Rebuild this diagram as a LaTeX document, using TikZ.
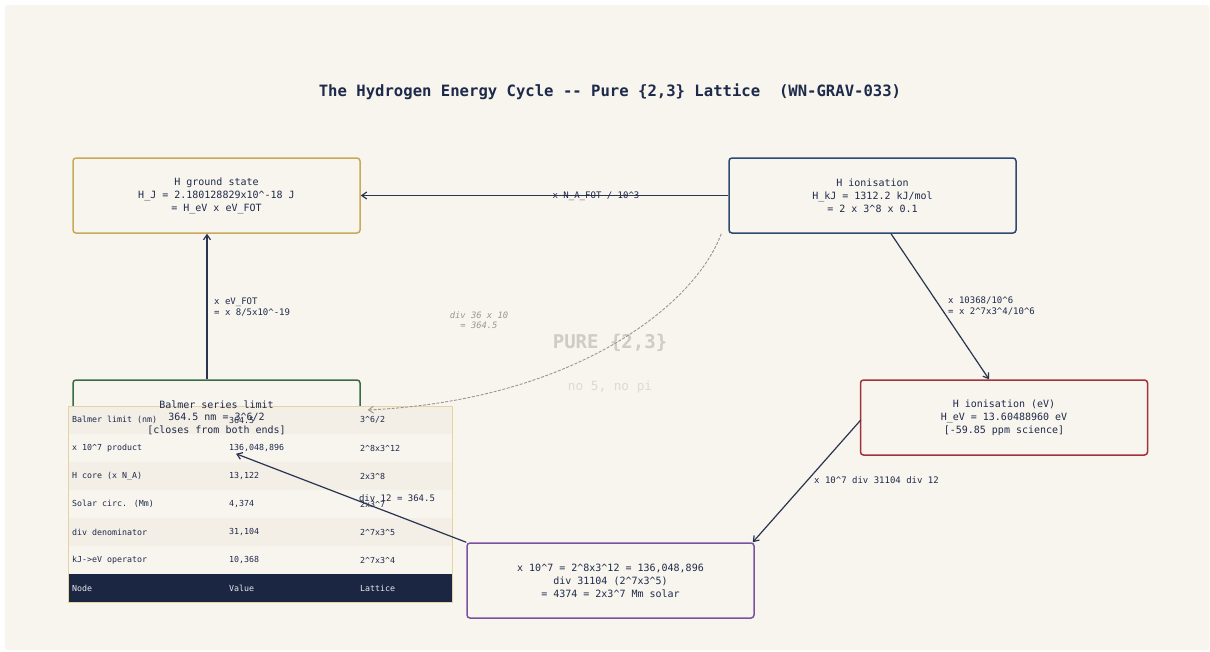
\documentclass[tikz,border=0pt]{standalone}
\usepackage{fontspec}
\newfontfamily\dvm{DejaVu Sans Mono}
\usetikzlibrary{calc,arrows.meta}
\definecolor{bgc}{HTML}{F8F5EE}
\definecolor{ink}{HTML}{1E2A4A}
\definecolor{goldb}{HTML}{C9A95A}
\definecolor{navyb}{HTML}{2D4A73}
\definecolor{greenb}{HTML}{3A6B45}
\definecolor{redb}{HTML}{A03338}
\definecolor{purpb}{HTML}{7B52A0}
\definecolor{arrc}{HTML}{2A3450}
\definecolor{dashc}{HTML}{9A9590}
\definecolor{wm}{HTML}{CFCCC6}
\definecolor{wmlight}{HTML}{DEDAD3}
\definecolor{rowdark}{HTML}{F3EEE6}
\definecolor{rowlight}{HTML}{F8F5EE}
\definecolor{tline}{HTML}{DEC584}
\definecolor{headc}{HTML}{1B2642}
\definecolor{headt}{HTML}{E8E8EC}
\tikzset{
  box/.style={draw, rounded corners=3pt, line width=1.5pt, fill=bgc, minimum width=287pt, minimum height=75pt, align=center, text=ink, font=\dvm\fontsize{10}{13}\selectfont, inner sep=0pt},
  conn/.style={draw=arrc, line width=1.2pt, -{Straight Barb[length=5pt,width=7pt]}},
  elabel/.style={text=ink, font=\dvm\fontsize{9}{10.5}\selectfont, align=left, anchor=west, inner sep=0pt},
  cell/.style={anchor=west, text=ink, font=\dvm\fontsize{8.3}{10}\selectfont, inner sep=0pt},
  hcell/.style={cell, text=headt},
}
\begin{document}
\begin{tikzpicture}[x=1pt,y=-1pt]
\useasboundingbox (0,0) rectangle (1210,651);
\fill[white] (0,0) rectangle (1210,651);
\fill[bgc, rounded corners=3pt] (5,5) rectangle (1209,650);
\node[font=\dvm\bfseries\fontsize{15.6}{18}\selectfont, text=ink] (title) at (610,91.5) {The Hydrogen Energy Cycle -- Pure \{2,3\} Lattice\ \ (WN-GRAV-033)};
% watermark
\node[font=\dvm\bfseries\fontsize{19}{22}\selectfont, text=wm] (wm1) at (610,343) {PURE \{2,3\}};
\node[font=\dvm\fontsize{12.7}{15}\selectfont, text=wmlight] (wm2) at (610,387) {no 5, no pi};
% boxes
\node[box, draw=goldb] (ground) at (216.5,195.5) {H ground state\\H\_J = 2.180128829x10\^{}-18 J\\= H\_eV x eV\_FOT};
\node[box, draw=navyb] (ionis) at (872.5,195.5) {H ionisation\\H\_kJ = 1312.2 kJ/mol\\= 2 x 3\^{}8 x 0.1};
\node[box, draw=redb] (ev) at (1004,417.5) {H ionisation (eV)\\H\_eV = 13.60488960 eV\\{[}-59.85 ppm science]};
\node[box, draw=purpb] (prod) at (610.5,580.5) {x 10\^{}7 = 2\^{}8x3\^{}12 = 136,048,896\\div 31104 (2\^{}7x3\^{}5)\\= 4374 = 2x3\^{}7 Mm solar};
\node[box, draw=greenb] (balmer) at (216.5,417.5) {};
% table
\foreach \i/\fc/\a/\b/\c in {
  1/rowdark/Balmer limit (nm)/364.5/3\^{}6\slash 2,
  2/rowlight/x 10\^{}7 product/136{,}048{,}896/2\^{}8x3\^{}12,
  3/rowdark/H core (x N\_A)/13{,}122/2x3\^{}8,
  4/rowlight/Solar circ. (Mm)/4{,}374/2x3\^{}7,
  5/rowdark/div denominator/31{,}104/2\^{}7x3\^{}5,
  6/rowlight/kJ->eV operator/10{,}368/2\^{}7x3\^{}4}{
  \pgfmathsetmacro{\yt}{406+28*(\i-1)}
  \fill[\fc] (68,\yt) rectangle (452,\yt+28);
  \draw[tline, line width=0.9pt] (68,\yt+28) -- (452,\yt+28);
  \node[cell] (t\i a) at (72,\yt+14) {\a};
  \node[cell] (t\i b) at (229,\yt+14) {\b};
  \node[cell] (t\i c) at (360,\yt+14) {\c};
}
\fill[headc] (68,574) rectangle (452,602);
\node[hcell] (h1) at (72,588) {Node};
\node[hcell] (h2) at (229,588) {Value};
\node[hcell] (h3) at (360,588) {Lattice};
\draw[tline!70!bgc, line width=0.9pt] (68,406) rectangle (452,602);
% balmer text on top
\node[text=ink, font=\dvm\fontsize{10}{12.5}\selectfont, align=center] (balmertext) at (216.5,417.5) {Balmer series limit\\364.5 nm = 3\^{}6/2\\{[}closes from both ends]};
% connectors
\draw[conn] (ionis.west) -- (ground.east);
\node[text=ink, font=\dvm\fontsize{9}{10.5}\selectfont, inner sep=0pt] (l1) at (596,196) {x N\_A\_FOT / 10\^{}3};
\draw[conn] ($(ionis.south)+(18.5,0)$) -- ($(ev.north)+(-15,0)$);
\node[elabel] (l2) at (948,306) {x 10368/10\^{}6\\= x 2\^{}7x3\^{}4/10\^{}6};
\draw[conn] ($(ev.west)+(1,2.5)$) -- ($(prod.north east)+(-2,0)$);
\node[elabel] (l3) at (814,480.5) {x 10\^{}7 div 31104 div 12};
\draw[conn] (prod.north west) -- ($(balmer.south)+(19.5,-2)$);
\node[text=ink, font=\dvm\fontsize{9}{10.5}\selectfont, inner sep=0pt] (l4) at (397,498) {div 12 = 364.5};
\draw[conn] ($(balmer.north)+(-9.5,0)$) -- ($(ground.south)+(-9.5,0)$);
\node[elabel] (l5) at (214,307) {x eV\_FOT\\= x 8/5x10\^{}-19};
\draw[draw=dashc, line width=0.9pt, dash pattern=on 3pt off 1.5pt, -{Straight Barb[length=5pt,width=7pt]}] ($(ionis.south west)+(-7,0)$) .. controls (695,305) and (575,400) .. ($(balmer.east)+(7,-7.5)$);
\node[text=dashc, font=\dvm\itshape\fontsize{8.8}{10}\selectfont, align=center, inner sep=0pt] (l6) at (479,320.5) {div 36 x 10\\= 364.5};
\end{tikzpicture}
\end{document}
